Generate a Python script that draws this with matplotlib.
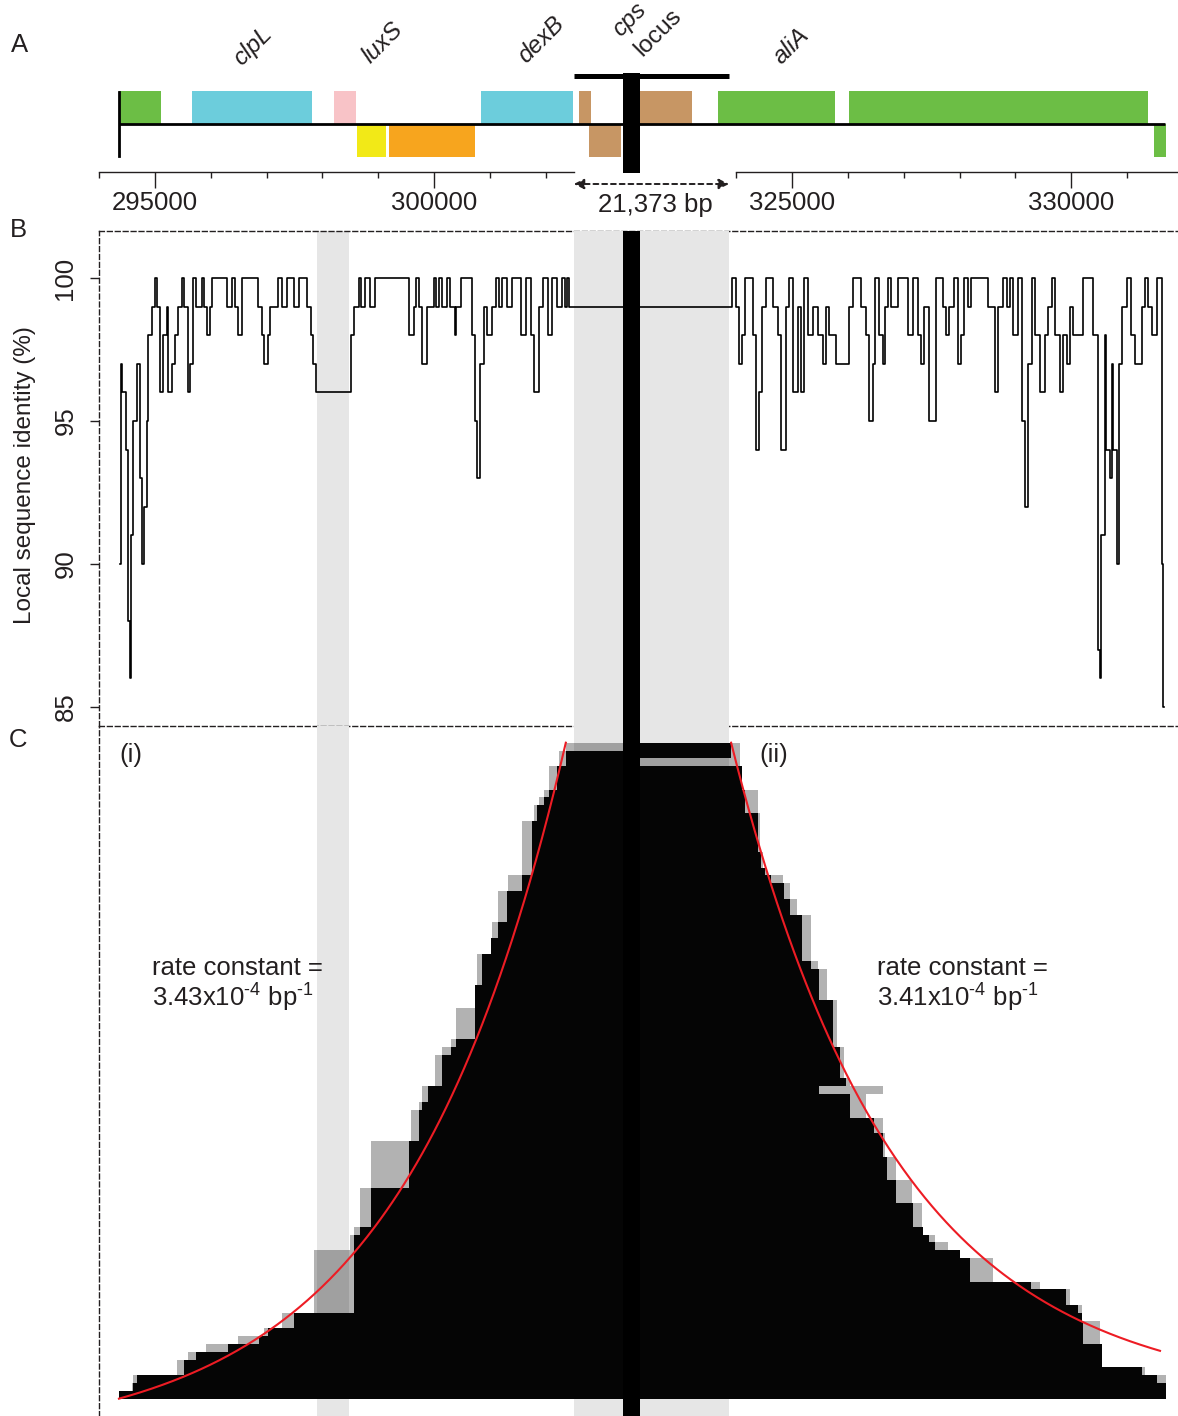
import numpy as np
import matplotlib
matplotlib.use("Agg")
import matplotlib.pyplot as plt

plt.rcParams['font.family'] = ['Liberation Sans', 'DejaVu Sans']
plt.rcParams['mathtext.fontset'] = 'custom'
plt.rcParams['mathtext.rm'] = 'Liberation Sans'
plt.rcParams['mathtext.it'] = 'Liberation Sans:italic'

INK = '#231f20'
BAND = '#e6e6e6'

# ---- data -------------------------------------------------------------
# genome track (bp)
TRACK_START, TRACK_END = 294357, 331679
LOCUS_START, LOCUS_END = 302500, 323873          # cps locus, 21,373 bp
BAR_L, BAR_R = 309233, 311568                    # black marker of the locus
SHADE_L, SHADE_R = 297911, 298482                # shaded low-identity window

gene_start = [294357, 295661, 298214, 298625, 299196, 300839, 303256, 304561,
              311568, 322423, 326018, 331482]
gene_end = [295107, 297821, 298607, 299143, 300732, 302482, 304932, 308958,
            318713, 325768, 331375, 331696]
gene_strand = [1, 1, 1, -1, -1, 1, 1, -1, 1, 1, 1, -1]
gene_color = ['#6cbe45', '#6ccddc', '#f8c3c7', '#f2e917', '#f7a51e', '#6ccddc',
              '#c79664', '#c79664', '#c79664', '#6cbe45', '#6cbe45', '#6cbe45']

gene_names = ['clpL', 'luxS', 'dexB', 'aliA']
gene_name_x = [296750, 299071, 301911, 324982]

major_ticks = [295000, 300000, 325000, 330000]
minor_ticks = list(range(294000, 303000, 1000)) + list(range(324000, 332000, 1000))

# local sequence identity (%) - start of each window and its value
ident_pos = [
    294375, 294393, 294411, 294482, 294518, 294554, 294571, 294607, 294679, 294732,
    294768, 294804, 294857, 294875, 294946, 295000, 295036, 295089, 295143, 295214,
    295232, 295304, 295357, 295411, 295482, 295518, 295589, 295625, 295679, 295732,
    295839, 295875, 295929, 295982, 296018, 296286, 296375, 296429, 296482, 296554,
    296839, 296911, 296946, 297018, 297054, 297196, 297268, 297357, 297482, 297589,
    297732, 297804, 297839, 297893, 298518, 298571, 298661, 298696, 298768, 298857,
    298946, 299554, 299643, 299679, 299732, 299786, 299875, 300000, 300036, 300089,
    300143, 300232, 300286, 300375, 300393, 300482, 300679, 300732, 300768, 300821,
    300893, 300946, 301036, 301107, 301161, 301214, 301304, 301393, 301554, 301643,
    301732, 301786, 301875, 301946, 302036, 302107, 302196, 302286, 302339, 302375,
    302411,
    323929, 324000, 324054, 324107, 324161, 324304, 324357, 324411, 324464, 324536,
    324661, 324750, 324804, 324893, 324946, 325018, 325107, 325161, 325214, 325286,
    325375, 325464, 325554, 325607, 325661, 325786, 326018, 326089, 326232, 326321,
    326375, 326446, 326482, 326554, 326625, 326661, 326714, 326768, 326893, 327071,
    327161, 327250, 327304, 327357, 327446, 327571, 327696, 327750, 327804, 327893,
    327964, 328018, 328071, 328143, 328214, 328518, 328643, 328696, 328786, 328857,
    328911, 328964, 329054, 329125, 329179, 329232, 329304, 329357, 329446, 329536,
    329589, 329661, 329714, 329804, 329857, 329929, 329982, 330036, 330214, 330393,
    330482, 330518, 330536, 330607, 330625, 330696, 330732, 330750, 330821, 330857,
    330911, 331000, 331071, 331143, 331268, 331321, 331375, 331446, 331536, 331625,
    331643, 331661]
ident_val = [
    90, 97, 96, 94, 88, 86, 91, 95, 97, 93,
    90, 92, 95, 98, 99, 100, 99, 96, 98, 99,
    96, 97, 98, 99, 100, 99, 96, 97, 100, 99,
    100, 99, 98, 99, 100, 99, 100, 99, 98, 100,
    99, 98, 97, 98, 99, 100, 99, 100, 99, 100,
    99, 98, 97, 96, 98, 99, 100, 99, 100, 99,
    100, 98, 99, 100, 99, 97, 99, 100, 99, 100,
    99, 100, 99, 98, 99, 100, 98, 95, 93, 97,
    99, 98, 99, 100, 99, 100, 99, 100, 98, 100,
    98, 96, 99, 100, 98, 100, 99, 100, 99, 100,
    99,
    100, 99, 97, 98, 100, 98, 94, 96, 99, 100,
    99, 98, 94, 99, 100, 96, 99, 96, 100, 98,
    99, 98, 97, 99, 98, 97, 99, 100, 99, 98,
    95, 97, 100, 98, 97, 99, 100, 99, 100, 98,
    100, 98, 97, 99, 95, 100, 99, 98, 99, 100,
    97, 98, 100, 99, 100, 99, 96, 99, 100, 99,
    100, 98, 100, 95, 92, 97, 100, 98, 96, 98,
    99, 100, 98, 96, 98, 97, 99, 98, 100, 98,
    87, 86, 91, 98, 94, 93, 97, 94, 90, 97,
    99, 100, 98, 97, 99, 100, 99, 98, 100, 90,
    85, 85]

# panel C: isolates sorted by extent of the conserved flank (rows per step)
nan = np.nan
left_rows = [1, 2, 3, 1, 1, 2, 7, 2, 4, 2, 2, 4, 3, 4, 1, 1, 4, 2, 1, 4,
             6, 5, 1, 2, 8, 2, 1, 1, 1, 1, 2, 1, 1, 1]
left_gray = [302357, 302232, 302054, 301964, 301875, 301786, 301571, 301321, 301143, 301036,
             301018, 300768, 300732, 300393, 300304, 300143, 300018, 299786, 299732, 299589,
             298875, 298679, 298571, 298500, 297857, 297268, 296946, 296482, 295911, 295589,
             295393, 294607, 294589, 294357]
left_black = [nan, 302357, 302196, 302054, 301964, 301839, 301750, 301571, 301304, 301143,
              301018, 300857, 300732, 300732, 300393, 300304, 300143, 299893, 299786, 299732,
              299554, 298875, 298679, 298571, 298571, 297482, 297018, 296857, 296304, 295732,
              295518, 294679, 294607, 294357]
right_rows = [2, 1, 3, 3, 5, 2, 1, 1, 2, 2, 6, 1, 4, 6, 4, 1, 1, 3, 2, 3,
              3, 3, 3, 1, 1, 1, 1, 3, 1, 2, 1, 1, 3, 3, 1, 1, 2]
right_black = [323911, nan, 324107, 324161, 324393, 324446, 324518, 324625, 324857, 324964,
               325179, 325339, 325482, 325732, 325857, 325964, 325482, 326036, 326464, 326625,
               326696, 326857, 327161, 327339, 327446, 327554, 328000, 328196, 329286, 329911,
               330125, 330196, 330214, 330554, 331268, 331536, 331696]
right_gray = [324071, 324071, 324107, 324393, 324429, 324482, 324554, 324839, 324964, 325089,
              325339, 325464, 325625, 325804, 325929, 326036, 326625, 326321, 326625, 326661,
              326857, 327143, 327321, 327339, 327554, 327786, 328000, 328607, 329446, 329982,
              330196, 330196, 330518, 330554, 331321, 331696, 331696]

# exponential fits
k_left, k_right = 3.43e-4, 3.41e-4
fit_left = (302357, 294357)
fit_right = (323911, 331589)

# ---- broken genome axis: cps locus squeezed -----------------------------
SQUEEZE = 0.13
GAP = (LOCUS_END - LOCUS_START) * SQUEEZE


def fwd(x):
    x = np.asarray(x, float)
    return np.where(x < LOCUS_START, x,
                    np.where(x > LOCUS_END, LOCUS_START + GAP + (x - LOCUS_END),
                             LOCUS_START + (x - LOCUS_START) * SQUEEZE))


def inv(y):
    y = np.asarray(y, float)
    return np.where(y < LOCUS_START, y,
                    np.where(y > LOCUS_START + GAP, LOCUS_END + (y - LOCUS_START - GAP),
                             LOCUS_START + (y - LOCUS_START) / SQUEEZE))


W, H = 1178, 1416
fig = plt.figure(figsize=(W / 100, H / 100), dpi=100)


def rect(x0, y0, x1, y1):
    return [x0 / W, 1 - y1 / H, (x1 - x0) / W, (y1 - y0) / H]


XL, XR = 294000, 331911
span = float(fwd(XR) - fwd(XL))
XA = float(inv(fwd(XL) - 99 / (W - 99) * span))

axA = fig.add_axes(rect(0, 0, W, 230))
axB = fig.add_axes(rect(99, 231, W, 726))
axC = fig.add_axes(rect(99, 726, W, H))
for ax in (axA, axB, axC):
    ax.set_xscale('function', functions=(fwd, inv))
    ax.patch.set_visible(False)
axA.set_xlim(XA, XR)
axB.set_xlim(XL, XR)
axC.set_xlim(XL, XR)

# ---- panel A ------------------------------------------------------------
axA.set_ylim(-3.212, 3.758)
ruler_y = -1.455
for s in ('top', 'left', 'right'):
    axA.spines[s].set_visible(False)
axA.spines['bottom'].set_position(('data', ruler_y))
axA.spines['bottom'].set_visible(False)
axA.set_yticks([])
axA.set_xticks(major_ticks)
axA.set_xticklabels([str(t) for t in major_ticks])
axA.set_xticks(minor_ticks, minor=True)
axA.tick_params(axis='x', which='major', length=11.5, width=1, pad=2,
                labelsize=18.5, color=INK, labelcolor=INK)
axA.tick_params(axis='x', which='minor', length=4, width=1, color=INK)
axA.plot([XL, LOCUS_START], [ruler_y, ruler_y], color=INK, lw=1)
axA.plot([324000, XR], [ruler_y, ruler_y], color=INK, lw=1, clip_on=False)

widths = np.array(gene_end) - np.array(gene_start)
axA.bar(gene_start, gene_strand, width=widths, bottom=0, align='edge',
        color=gene_color, lw=0, zorder=2)
axA.plot([TRACK_START, TRACK_END], [0, 0], color='black', lw=2, zorder=3,
         solid_capstyle='butt')
axA.plot([TRACK_START, TRACK_START], [-0.97, 0.97], color='black', lw=2, zorder=3)

axA.plot([LOCUS_START, LOCUS_END], [1.455, 1.455], color='black', lw=3.6,
         solid_capstyle='butt', zorder=4)
axA.fill_betweenx([-1.485, 1.545], BAR_L, BAR_R, color='black', lw=0, zorder=4)

axA.annotate('', xy=(LOCUS_END, -1.818), xytext=(LOCUS_START, -1.818),
             arrowprops=dict(arrowstyle='<|-|>,head_length=0.6,head_width=0.3',
                             lw=1.4, ls=(0, (2.5, 2)), color=INK,
                             shrinkA=0, shrinkB=0))
axA.text(float(inv((fwd(LOCUS_START) + fwd(LOCUS_END)) / 2)) + 600, -2.455,
         f'{LOCUS_END - LOCUS_START:,} bp', ha='center', va='center',
         fontsize=18.5, color=INK)

for name, gx, gy in zip(gene_names, gene_name_x, [2.36, 2.45, 2.55, 2.36]):
    axA.text(gx, gy, name, rotation=45, ha='center', va='center',
             style='italic', fontsize=17.5, color=INK)
axA.text(310100, 3.16, 'cps', rotation=45, ha='center', va='center',
         style='italic', fontsize=17.5, color=INK)
axA.text(314145, 2.76, 'locus', rotation=45, ha='center', va='center',
         fontsize=17.5, color=INK)

# ---- panel B ------------------------------------------------------------
dash = (0, (3.5, 2.2))
axB.set_ylim(84.336, 101.643)
axB.spines['right'].set_visible(False)
for s in ('left', 'top', 'bottom'):
    axB.spines[s].set_linestyle(dash)
    axB.spines[s].set_linewidth(1)
    axB.spines[s].set_color(INK)
axB.set_xticks([])
axB.set_yticks([85, 90, 95, 100])
axB.set_yticklabels(['85', '90', '95', '100'], rotation=90, va='center')
axB.tick_params(axis='y', length=6.5, width=1, pad=9, labelsize=18.5,
                color=INK, labelcolor=INK)
axB.axvspan(SHADE_L, SHADE_R, color=BAND, lw=0, zorder=0.5)
axB.axvspan(LOCUS_START, LOCUS_END, color=BAND, lw=0, zorder=3)
axB.step(ident_pos, ident_val, where='post', color='black', lw=1.2, zorder=3.5)
axB.axvspan(BAR_L, BAR_R, color='black', lw=0, zorder=4)

# ---- panel C ------------------------------------------------------------
n_iso = sum(left_rows)
axC.set_ylim(n_iso + 2.22, -2.14)
for s in ('right', 'top', 'bottom'):
    axC.spines[s].set_visible(False)
axC.spines['left'].set_linestyle(dash)
axC.spines['left'].set_linewidth(1)
axC.spines['left'].set_color(INK)
axC.set_xticks([])
axC.set_yticks([])
axC.axvspan(SHADE_L, SHADE_R, color=BAND, lw=0, zorder=0.5)
axC.axvspan(LOCUS_START, LOCUS_END, color=BAND, lw=0, zorder=0.6)

mid = (BAR_L + BAR_R) / 2
rows = np.arange(n_iso) + 0.5
lg = np.repeat(left_gray, left_rows)
lb = np.nan_to_num(np.repeat(left_black, left_rows), nan=mid)
rg = np.repeat(right_gray, right_rows)
rb = np.nan_to_num(np.repeat(right_black, right_rows), nan=mid)
axC.barh(rows, mid - lg, left=lg, height=1.0, color='black', alpha=0.3, lw=0, zorder=1)
axC.barh(rows, rg - mid, left=mid, height=1.0, color='black', alpha=0.3, lw=0, zorder=1)
axC.barh(rows, mid - lb, left=lb, height=1.0, color='#050505', lw=0, zorder=2)
axC.barh(rows, rb - mid, left=mid, height=1.0, color='#050505', lw=0, zorder=2)
axC.axvspan(BAR_L, BAR_R, color='black', lw=0, zorder=4)

# fitted exponential decay of the flank extent
xl = np.linspace(fit_left[1], fit_left[0], 300)
dl = fit_left[0] - xl
dmax = fit_left[0] - fit_left[1]
A = n_iso / (1 - np.exp(-k_left * dmax))
axC.plot(xl, n_iso - (A * np.exp(-k_left * dl) + n_iso - A), color='#ed1c24', lw=1.5, zorder=6)
xr = np.linspace(fit_right[0], fit_right[1], 300)
axC.plot(xr, n_iso - n_iso * np.exp(-k_right * (xr - fit_right[0])),
         color='#ed1c24', lw=1.5, zorder=6)

# ---- texts --------------------------------------------------------------
def ftext(px, py, s, **kw):
    kw.setdefault('fontsize', 18.5)
    kw.setdefault('color', INK)
    fig.text(px / W, 1 - py / H, s, **kw)


ftext(20, 45, 'A', ha='center', va='center')
ftext(18, 230, 'B', ha='center', va='center')
ftext(18, 740, 'C', ha='center', va='center')
ftext(25, 475, 'Local sequence identity (%)', rotation=90, ha='center',
      va='center', fontsize=17.5)
ftext(119, 755, '(i)', ha='left', va='center')
ftext(759, 755, '(ii)', ha='left', va='center')
ftext(152, 968, 'rate constant =', ha='left', va='center')
ftext(152, 998, r'3.43x10$^{\text{-4}}$ bp$^{\text{-1}}$', ha='left', va='center')
ftext(877, 968, 'rate constant =', ha='left', va='center')
ftext(877, 998, r'3.41x10$^{\text{-4}}$ bp$^{\text{-1}}$', ha='left', va='center')

fig.savefig('out.png', dpi=100)
